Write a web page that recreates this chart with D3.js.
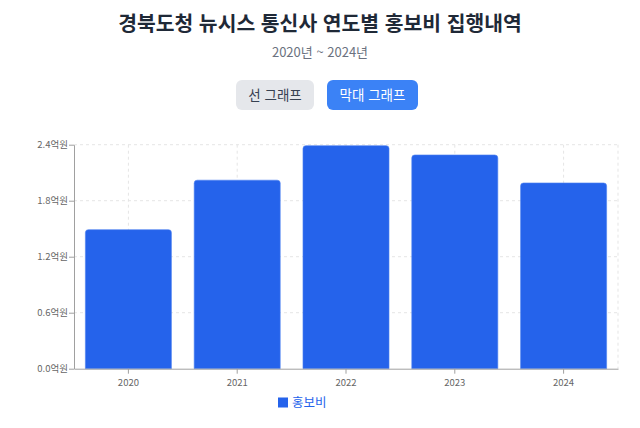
<!DOCTYPE html>
<html lang="ko">
<head>
<meta charset="utf-8">
<script src="https://cdn.jsdelivr.net/npm/d3@7"></script>
<style>
  html, body { margin: 0; padding: 0; background: #fff; }
  svg { display: block; font-family: "Noto Sans CJK KR", "Noto Sans", sans-serif; }
</style>
</head>
<body>
<svg id="chart" width="640" height="428"></svg>
<script>
"use strict";

// 연도별 홍보비 (억원)
const years = ["2020", "2021", "2022", "2023", "2024"];
const spending = [1.49, 2.02, 2.39, 2.29, 1.99];
const yTicks = [0, 0.6, 1.2, 1.8, 2.4];
const seriesName = "홍보비";

const svg = d3.select("#chart");
const margin = {top: 144.7, left: 74, right: 22, bottom: 59.3};
const W = 640, H = 428;

// title + subtitle
svg.append("text")
    .attr("x", W / 2).attr("y", 31)
    .attr("text-anchor", "middle")
    .attr("font-size", 20.4).attr("font-weight", 700)
    .attr("fill", "#1f2937")
    .text("경북도청 뉴시스 통신사 연도별 홍보비 집행내역");
svg.append("text")
    .attr("x", W / 2).attr("y", 57)
    .attr("text-anchor", "middle")
    .attr("font-size", 13)
    .attr("fill", "#6b7280")
    .text("2020년 ~ 2024년");

// toggle buttons
const buttons = [
    {label: "선 그래프", x: 236, w: 78, bg: "#e5e7eb", fg: "#374151"},
    {label: "막대 그래프", x: 327, w: 91, bg: "#3b82f6", fg: "#ffffff"}
];
const btn = svg.selectAll("g.btn").data(buttons).join("g").attr("class", "btn");
btn.append("rect")
    .attr("x", d => d.x).attr("y", 80)
    .attr("width", d => d.w).attr("height", 30)
    .attr("rx", 6).attr("fill", d => d.bg);
btn.append("text")
    .attr("x", d => d.x + d.w / 2).attr("y", 100)
    .attr("text-anchor", "middle")
    .attr("font-size", 13.5)
    .attr("fill", d => d.fg)
    .text(d => d.label);

// scales
const x = d3.scaleBand()
    .domain(years)
    .range([margin.left, W - margin.right])
    .paddingInner(0.2).paddingOuter(0.1);
const xCenter = d3.scaleBand().domain(years).range([margin.left, W - margin.right]);
const y = d3.scaleLinear()
    .domain([0, 2.4])
    .range([H - margin.bottom, margin.top]);

// grid
const grid = svg.append("g").attr("stroke", "#e5e5e5").attr("stroke-dasharray", "3,3");
grid.selectAll("line.h").data(yTicks.slice(1)).join("line")
    .attr("x1", margin.left).attr("x2", W - margin.right)
    .attr("y1", d => y(d)).attr("y2", d => y(d));
grid.selectAll("line.v").data(years).join("line")
    .attr("x1", d => xCenter(d) + xCenter.bandwidth() / 2)
    .attr("x2", d => xCenter(d) + xCenter.bandwidth() / 2)
    .attr("y1", margin.top).attr("y2", H - margin.bottom);
grid.append("line")
    .attr("x1", W - margin.right).attr("x2", W - margin.right)
    .attr("y1", margin.top).attr("y2", H - margin.bottom);

// bars with rounded top corners
const r = 3;
svg.append("g").selectAll("path").data(spending).join("path")
    .attr("fill", "#2563eb")
    .attr("stroke", "#4f83f0").attr("stroke-width", 0.6)
    .attr("d", (v, i) => {
        const x0 = x(years[i]) + 0.5, x1 = x0 + x.bandwidth() - 1;
        const top = y(v), base = y(0);
        return `M${x0},${base}V${top + r}Q${x0},${top} ${x0 + r},${top}` +
               `H${x1 - r}Q${x1},${top} ${x1},${top + r}V${base}Z`;
    });

// axes
const xAxis = svg.append("g")
    .attr("transform", `translate(0,${H - margin.bottom})`)
    .call(d3.axisBottom(xCenter).tickSize(5).tickSizeOuter(0));
const yAxis = svg.append("g")
    .attr("transform", `translate(${margin.left},0)`)
    .call(d3.axisLeft(y).tickValues(yTicks).tickSize(5).tickSizeOuter(0)
        .tickFormat(d => d3.format(".1f")(d) + "억원"));
[xAxis, yAxis].forEach(a => {
    a.select(".domain").attr("stroke", "#a0a0a0");
    a.selectAll(".tick line").attr("stroke", "#a0a0a0");
    a.selectAll(".tick text").attr("fill", "#666").attr("font-size", 9.5)
        .attr("font-family", "\"Noto Sans CJK KR\", sans-serif");
});
xAxis.selectAll(".tick text").attr("dy", "0.95em");
yAxis.selectAll(".tick text").attr("x", -6);

// legend
const legend = svg.append("g").attr("transform", "translate(278,397.5)");
legend.append("rect").attr("width", 10).attr("height", 10).attr("fill", "#2563eb");
legend.append("text")
    .attr("x", 14).attr("y", 9.5)
    .attr("font-size", 12.5).attr("fill", "#2563eb")
    .text(seriesName);
</script>
</body>
</html>
